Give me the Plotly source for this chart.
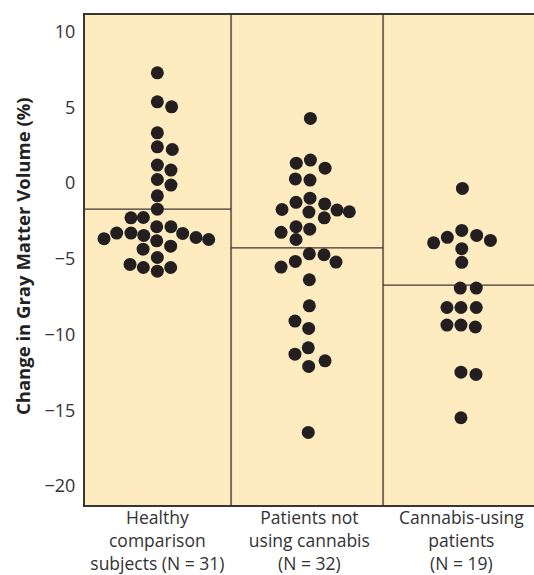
import plotly.graph_objects as go

# ---- data ----
categories = ["Healthy<br>comparison<br>subjects (N = 31)",
              "Patients not<br>using cannabis<br>(N = 32)",
              "Cannabis-using<br>patients<br>(N = 19)"]

healthy_vals = [7.28, 5.37, 5.04, 3.32, 2.40, 2.22, 1.19, 0.86, 0.24, -0.13, -0.84, -1.72,
                -2.29, -2.27, -2.88, -2.88, -3.67, -3.30, -3.30, -3.45, -3.81, -3.32, -3.59,
                -3.72, -4.36, -4.16, -4.91, -5.37, -5.57, -5.81, -5.57]
healthy_cols = [0, 0, 1.07, 0, 0, 1.12, 0, 1.02, 0, 1.02, 0, 0,
                -1.98, -1.05, -0.05, 1.02, -4, -3.05, -1.98, -1.02, -0.05, 1.9, 2.9,
                3.85, -1.07, 1, 0, -2.05, -1.05, 0, 1]

noncann_vals = [4.27, 1.32, 1.52, 0.99, 0.28, 0.20, -1.27, -0.99, -1.37, -1.74, -1.91, -1.78,
                -1.89, -2.29, -3.25, -2.88, -3.04, -3.72, -4.67, -4.73, -5.54, -5.17, -5.21,
                -6.38, -8.10, -9.11, -9.59, -10.87, -11.29, -11.73, -12.10, -16.46]
noncann_cols = [0.08, -0.98, 0.08, 1.18, -1.05, 0.05, -1, 0.05, 1.15, -2.05, -0.03, 2.08,
                3, 1.12, -2.12, -1, 0.03, -1, 0, 1.1, -2.12, -1.05, 2,
                0, 0, -1.08, -0.05, -0.08, -1.08, 1.18, -0.05, -0.08]

cann_vals = [-0.35, -3.94, -3.58, -3.12, -3.45, -3.78, -4.33, -5.23, -6.93, -6.93, -8.21,
             -8.21, -8.21, -9.37, -9.37, -9.50, -12.48, -12.63, -15.49]
cann_cols = [0.08, -2.08, -1.05, 0.03, 1.15, 2.18, 0.03, 0.03, -0.08, 1.12, -1.08,
             -0.03, 1.12, -1.08, -0.03, 1.05, -0.03, 1.1, -0.03]

group_lines = [-1.72, -4.27, -6.73]   # horizontal reference line per group

y_ticks = [-20, -15, -10, -5, 0, 5, 10]

# ---- styling ----
FONT = "Open Sans"
DOT = "#231f20"
BG = "#feecc0"
COL_STEP = 0.0877
X_RANGE = [0.524, 3.478]
DIVIDERS = [X_RANGE[0], 1.485, 2.485, X_RANGE[1]]

fig = go.Figure()
groups = [(healthy_vals, healthy_cols), (noncann_vals, noncann_cols), (cann_vals, cann_cols)]
for i, (vals, cols) in enumerate(groups):
    cx = i + 1
    fig.add_trace(go.Scatter(
        x=[cx + c * COL_STEP for c in cols], y=vals, mode="markers",
        marker=dict(size=13, color=DOT, line=dict(width=0)),
        showlegend=False, hoverinfo="y", cliponaxis=False))

shapes = []
for i, yv in enumerate(group_lines):
    shapes.append(dict(type="line", xref="x", yref="y", x0=DIVIDERS[i], x1=DIVIDERS[i + 1],
                       y0=yv, y1=yv, line=dict(color="#3b3631", width=1.2), layer="below"))
for d in DIVIDERS[1:3]:
    shapes.append(dict(type="line", xref="x", yref="paper", x0=d, x1=d, y0=0, y1=1,
                       line=dict(color="#7d6d58", width=2), layer="below"))

fig.update_layout(
    width=534, height=575,
    margin=dict(l=85, r=0, t=15, b=70),
    paper_bgcolor="white", plot_bgcolor=BG,
    font=dict(family=FONT, size=18, color="#333333"),
    shapes=shapes,
    xaxis=dict(range=X_RANGE, tickvals=[1, 2, 3], ticktext=categories,
               showgrid=False, zeroline=False, showline=True, mirror=True,
               linecolor="#3a3530", linewidth=2, ticks="", automargin=False,
               ticklabelstandoff=-4,
               tickfont=dict(size=17.5, color="#333333")),
    yaxis=dict(range=[-21.25, 11.1], tickvals=y_ticks,
               showgrid=False, zeroline=False, showline=True,
               linecolor="#3a3530", linewidth=2, ticks="", ticklabelstandoff=4,
               automargin=False,
               tickfont=dict(size=18, color="#333333")),
    annotations=[dict(text="<b>Change in Gray Matter Volume (%)</b>", textangle=-90,
                      xref="paper", yref="paper", x=-(85 - 22) / 449, y=(505 - 256) / 490,
                      xanchor="center", yanchor="middle", showarrow=False,
                      font=dict(family=FONT, size=18.5, color="#222222"))],
)

fig.write_html("out.html", config={"displayModeBar": False},
               post_script="document.body.style.margin='0';document.body.style.overflow='hidden';")
